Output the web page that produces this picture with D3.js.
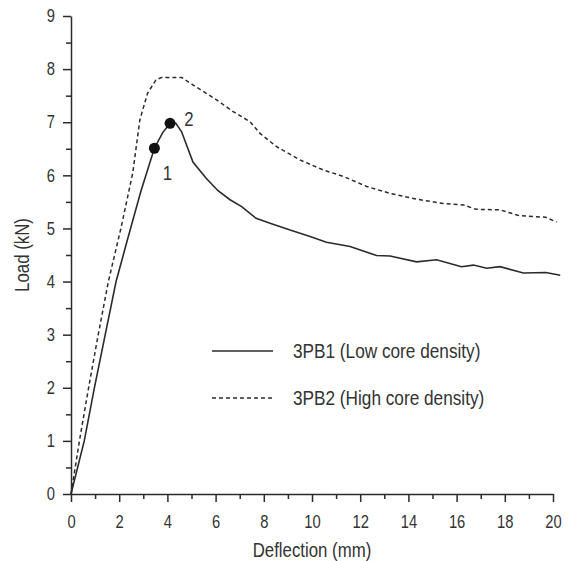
<!DOCTYPE html>
<html>
<head>
<meta charset="utf-8">
<script src="https://cdn.jsdelivr.net/npm/d3@7"></script>
<style>
  body { margin: 0; background: #fff; }
  text { font-family: "Liberation Sans", Arial, sans-serif; fill: #333; }
</style>
</head>
<body>
<svg id="chart" width="569" height="561"></svg>
<script>
// 3PB1 (low core density) - [deflection mm, load kN]
const series1 = [
  [0, 0], [0.55, 1], [0.97, 2], [1.42, 3], [1.87, 4], [2.35, 4.8],
  [2.9, 5.7], [3.46, 6.51], [3.8, 6.8], [4.11, 6.98],
  [4.35, 6.98], [4.59, 6.82], [5.06, 6.25], [5.6, 5.95], [6.1, 5.71],
  [6.6, 5.54], [7.08, 5.41], [7.68, 5.19], [8.26, 5.10], [9.09, 4.97],
  [9.92, 4.85], [10.6, 4.74], [11.58, 4.66], [12.68, 4.49], [13.24, 4.48],
  [14.34, 4.37], [15.17, 4.41], [16.2, 4.28], [16.7, 4.31], [17.25, 4.25],
  [17.8, 4.28], [18.77, 4.16], [19.7, 4.17], [20.3, 4.12]
];

// 3PB2 (high core density)
const series2 = [
  [0, 0], [0.35, 1], [0.73, 2], [1.13, 3], [1.55, 4], [2.07, 5],
  [2.56, 6.04], [2.86, 7.05], [3.18, 7.55], [3.53, 7.8], [3.75, 7.84],
  [4.6, 7.84], [5.07, 7.7], [6.04, 7.42], [6.73, 7.2],
  [7.43, 7.01], [7.84, 6.79], [8.53, 6.54], [9.5, 6.29], [10.47, 6.1],
  [11.3, 5.98], [12.27, 5.79], [13.24, 5.66], [14.34, 5.55], [15.45, 5.47],
  [16.3, 5.44], [16.8, 5.36], [17.8, 5.35], [18.6, 5.24], [19.7, 5.21],
  [20.15, 5.12]
];

// marked points on 3PB1
const markers = [
  { x: 3.46, y: 6.51, label: "1" },
  { x: 4.11, y: 6.98, label: "2" }
];

const legendLabels = ["3PB1 (Low core density)", "3PB2 (High core density)"];
const xTicks = d3.range(0, 21, 2);
const xMinor = d3.range(1, 20, 2);
const yTicks = d3.range(0, 10, 1);
const yMinor = d3.range(0.5, 9, 1);

const svg = d3.select("#chart");
const ink = "#2b2b2b";
const squeeze = 0.82;   // text in the figure is a narrow face

const xScale = d3.scaleLinear().domain([0, 20]).range([71, 553]);
const yScale = d3.scaleLinear().domain([0, 9]).range([494, 16]);

// narrow text helper: x is the wanted position on screen
function narrowText(x, y, str, size, anchor) {
  return svg.append("text")
            .attr("transform", "scale(" + squeeze + ",1)")
            .attr("x", x / squeeze)
            .attr("y", y)
            .attr("text-anchor", anchor || "start")
            .style("font-size", size + "px")
            .text(str);
}

// minor ticks first (no labels)
svg.append("g")
   .attr("transform", "translate(0,494)")
   .call(d3.axisBottom(xScale).tickValues(xMinor).tickSize(5).tickSizeOuter(0).tickFormat(""))
   .call(g => g.select(".domain").remove());

svg.append("g")
   .attr("transform", "translate(71,0)")
   .call(d3.axisLeft(yScale).tickValues(yMinor).tickSize(5).tickSizeOuter(0).tickFormat(""))
   .call(g => g.select(".domain").remove());

// major axes
svg.append("g")
   .attr("transform", "translate(0,494)")
   .call(d3.axisBottom(xScale).tickValues(xTicks).tickSize(8).tickSizeOuter(0).tickPadding(13));

svg.append("g")
   .attr("transform", "translate(71,0)")
   .call(d3.axisLeft(yScale).tickValues(yTicks).tickSize(8).tickSizeOuter(0).tickPadding(11.5));

svg.selectAll(".tick line, .domain")
   .attr("stroke", ink)
   .attr("stroke-width", 1.5);

svg.selectAll(".tick text")
   .style("font-size", "18px")
   .attr("fill", "#333")
   .attr("transform", "scale(" + squeeze + ",1)");

// axis titles
narrowText((71 + 553) / 2, 557, "Deflection (mm)", 20.5, "middle");

svg.append("text")
   .attr("transform", "translate(29,255) rotate(-90) scale(" + squeeze + ",1)")
   .attr("text-anchor", "middle")
   .style("font-size", "20.5px")
   .text("Load (kN)");

// curves
const line = d3.line()
   .x(d => xScale(d[0]))
   .y(d => yScale(d[1]));

svg.append("path")
   .attr("d", line(series2))
   .attr("fill", "none")
   .attr("stroke", ink)
   .attr("stroke-width", 1.5)
   .attr("stroke-dasharray", "4,3");

svg.append("path")
   .attr("d", line(series1))
   .attr("fill", "none")
   .attr("stroke", ink)
   .attr("stroke-width", 1.6);

// marked points
svg.selectAll("circle.mark")
   .data(markers)
   .enter()
   .append("circle")
      .attr("class", "mark")
      .attr("cx", d => xScale(d.x))
      .attr("cy", d => yScale(d.y))
      .attr("r", 5.5)
      .attr("fill", "#111");

narrowText(xScale(markers[0].x) + 13, yScale(markers[0].y) + 32, markers[0].label, 20.5, "middle");
narrowText(xScale(markers[1].x) + 19, yScale(markers[1].y) + 3, markers[1].label, 20.5, "middle");

// legend
legendLabels.forEach((lab, i) => {
  const y = 351 + i * 47;
  svg.append("line")
     .attr("x1", 212).attr("x2", 273)
     .attr("y1", y).attr("y2", y)
     .attr("stroke", ink)
     .attr("stroke-width", i === 0 ? 1.6 : 1.3)
     .attr("stroke-dasharray", i === 0 ? null : "4,3");
  narrowText(293, y + 7, lab, 21);
});
</script>
</body>
</html>
